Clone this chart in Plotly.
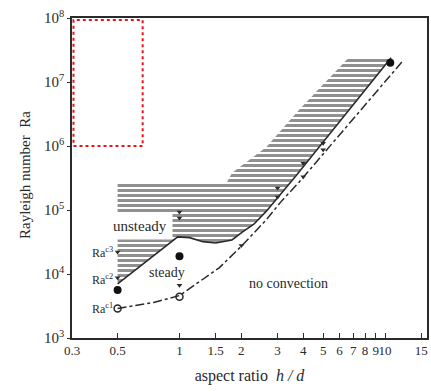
import numpy as np
import plotly.graph_objects as go

# ---- data ----
# aspect ratio h/d and Rayleigh number Ra
# boundary steady/unsteady (solid line)
c2_line_hd = [0.5, 0.98, 1.12, 1.3, 1.5, 1.8, 2.02, 2.3, 2.64, 3.15, 3.68, 10.7]
c2_line_ra = [7.0e3, 3.8e4, 3.7e4, 3.2e4, 3.05e4, 3.4e4, 4.5e4, 6.0e4, 9.5e4, 1.9e5, 3.4e5, 2.4e7]
# onset of convection (dash-dot line)
c1_line_hd = [0.5, 0.75, 1.0, 1.25, 1.56, 2.02, 2.64, 3.15, 3.81, 12.3]
c1_line_ra = [2.9e3, 3.6e3, 4.6e3, 7.5e3, 1.25e4, 2.8e4, 7.0e4, 1.4e5, 2.7e5, 2.2e7]
# upper/left edge of the hatched (unsteady) region
top_edge_hd = [0.5, 1.7, 1.8, 2.64, 3.81, 6.65, 10.7]
top_edge_ra = [2.7e5, 2.7e5, 3.8e5, 9.6e5, 3.65e6, 2.4e7, 2.4e7]
# measured points
filled_hd = [0.5, 1.0, 10.6]
filled_ra = [5.6e3, 1.9e4, 2.0e7]
small_hd = [0.5, 0.5, 1.0, 1.0, 1.0, 2.0, 3.0, 3.0, 4.0, 4.0, 5.0, 5.0]
small_ra = [2.2e4, 8.7e3, 9.3e4, 7.5e4, 6.7e3, 2.8e4, 2.2e5, 1.6e5, 5.4e5, 3.3e5, 1.1e6, 8.7e5]
open_hd = [0.5, 1.0]
open_ra = [2.9e3, 4.4e3]
# highlighted (red dotted) box
box_hd = [0.305, 0.662, 0.662, 0.305, 0.305]
box_ra = [1.0e6, 1.0e6, 9.3e7, 9.3e7, 1.0e6]

x_ticks = [0.3, 0.5, 1, 1.5, 2, 3, 4, 5, 6, 7, 8, 9, 10, 15]
x_ticktext = ["0.3", "0.5", "1", "1.5", "2", "3", "4", "5", "6", "7", "8", "9", "10", "15"]
y_ticks = [1e3, 1e4, 1e5, 1e6, 1e7, 1e8]
y_ticktext = ["10<sup>%d</sup>" % k for k in range(3, 9)]

FONT = "Liberation Serif, Times New Roman, serif"
INK = "#2a2a2a"

fig = go.Figure()

# hatched unsteady region
poly_x = top_edge_hd + c2_line_hd[::-1] + [0.5]
poly_y = top_edge_ra + c2_line_ra[::-1] + [2.7e5]
fig.add_trace(go.Scatter(
    x=poly_x, y=poly_y, mode="lines", fill="toself",
    line=dict(width=0, color="rgba(0,0,0,0)"),
    fillcolor="rgba(255,255,255,0)",
    fillpattern=dict(shape="-", size=5, solidity=0.6, fgcolor="#222222",
                     bgcolor="rgba(255,255,255,0)"),
    hoverinfo="skip", showlegend=False))

fig.add_trace(go.Scatter(x=c2_line_hd, y=c2_line_ra, mode="lines",
                         line=dict(color=INK, width=1.6), showlegend=False))
fig.add_trace(go.Scatter(x=c1_line_hd, y=c1_line_ra, mode="lines",
                         line=dict(color=INK, width=1.5, dash="dashdot"), showlegend=False))

fig.add_trace(go.Scatter(x=small_hd, y=small_ra, mode="markers",
                         marker=dict(symbol="triangle-down", size=5, color=INK),
                         showlegend=False))
fig.add_trace(go.Scatter(x=filled_hd, y=filled_ra, mode="markers",
                         marker=dict(symbol="circle", size=8, color="#111"),
                         showlegend=False))
fig.add_trace(go.Scatter(x=open_hd, y=open_ra, mode="markers",
                         marker=dict(symbol="circle-open", size=7, color=INK,
                                     line=dict(width=1.5)),
                         showlegend=False))

fig.add_trace(go.Scatter(x=box_hd, y=box_ra, mode="lines",
                         line=dict(color="#e8141c", width=2, dash="dot"),
                         showlegend=False))

def ann(hd, ra, text, size, **kw):
    fig.add_annotation(x=np.log10(hd), y=np.log10(ra), xref="x", yref="y",
                       text=text, showarrow=False,
                       font=dict(family=FONT, size=size, color=INK), **kw)

ann(0.64, 5.6e4, "unsteady", 15, bgcolor="white", borderpad=5)
ann(0.865, 1.04e4, "steady", 14)
ann(3.4, 7.2e3, "no convection", 14)
ann(0.42, 2.2e4, "Ra<sup>c3</sup>", 12)
ann(0.42, 8.1e3, "Ra<sup>c2</sup>", 12)
ann(0.42, 2.9e3, "Ra<sup>c1</sup>", 12)

# y-axis title
fig.add_annotation(x=-0.16, y=0.51, xref="paper", yref="paper",
                   text="Rayleigh number&nbsp;&nbsp;Ra", textangle=-90,
                   showarrow=False, font=dict(family=FONT, size=15, color=INK))

fig.update_xaxes(type="log", range=[np.log10(0.3), np.log10(16)],
                 tickvals=x_ticks, ticktext=x_ticktext, tickangle=0,
                 ticks="inside", ticklen=5, tickcolor=INK,
                 showline=True, linecolor=INK, linewidth=1.6, mirror=True,
                 showgrid=False, zeroline=False,
                 tickfont=dict(family=FONT, size=13, color=INK),
                 title=dict(text="aspect ratio&nbsp;&nbsp;<i>h / d</i>",
                            font=dict(family=FONT, size=16, color=INK), standoff=12))
fig.update_yaxes(type="log", range=[3, 8],
                 tickvals=y_ticks, ticktext=y_ticktext,
                 ticks="outside", ticklen=3, tickcolor=INK,
                 showline=True, linecolor=INK, linewidth=1.6, mirror=True,
                 showgrid=False, zeroline=False,
                 tickfont=dict(family=FONT, size=15, color=INK))

fig.update_layout(width=431, height=392,
                  margin=dict(l=72, r=2, t=18, b=54),
                  paper_bgcolor="white", plot_bgcolor="white",
                  showlegend=False)

fig.write_html("out.html")
